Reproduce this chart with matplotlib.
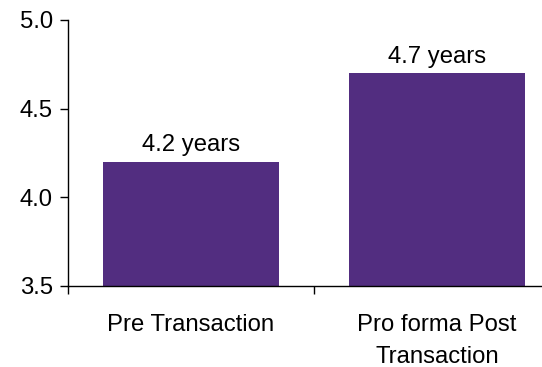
import matplotlib.pyplot as plt

plt.rcParams['font.family'] = ['Liberation Sans', 'DejaVu Sans']

# Data
categories = ['Pre Transaction', 'Pro forma Post\nTransaction']
values = [4.2, 4.7]
yticks = [3.5, 4.0, 4.5, 5.0]

bar_color = '#522D80'
fs = 17.2

fig = plt.figure(figsize=(5.42, 3.67), dpi=100)
# axes runs a little past the right edge of the figure
ax = fig.add_axes([68 / 542, 81 / 367, 492 / 542, 266 / 367])

x = list(range(len(categories)))
bars = ax.bar(x, values, width=0.715, color=bar_color, zorder=2)

for xi, v in zip(x, values):
    ax.annotate(f'{v:.1f} years', (xi, v), xytext=(0, 4), textcoords='offset points',
                ha='center', va='bottom', fontsize=fs)

ax.set_xlim(-0.5, 1.5)
ax.set_ylim(3.5, 5.0)
ax.set_yticks(yticks)
ax.set_yticklabels([f'{t:.1f}' for t in yticks], fontsize=fs)

# labels under the bars, tick marks between categories
ax.set_xticks(x)
ax.set_xticklabels(categories, fontsize=fs, linespacing=1.6, va='top')
ax.set_xticks([-0.5, 0.5, 1.5], minor=True)
ax.tick_params(axis='x', which='major', length=0, pad=20)
ax.tick_params(axis='x', which='minor', length=6, width=1, direction='out')
ax.tick_params(axis='y', length=6, width=1, pad=5)

for side in ['top', 'right']:
    ax.spines[side].set_visible(False)
for side in ['left', 'bottom']:
    ax.spines[side].set_linewidth(1)

fig.savefig('out.png', dpi=100)
